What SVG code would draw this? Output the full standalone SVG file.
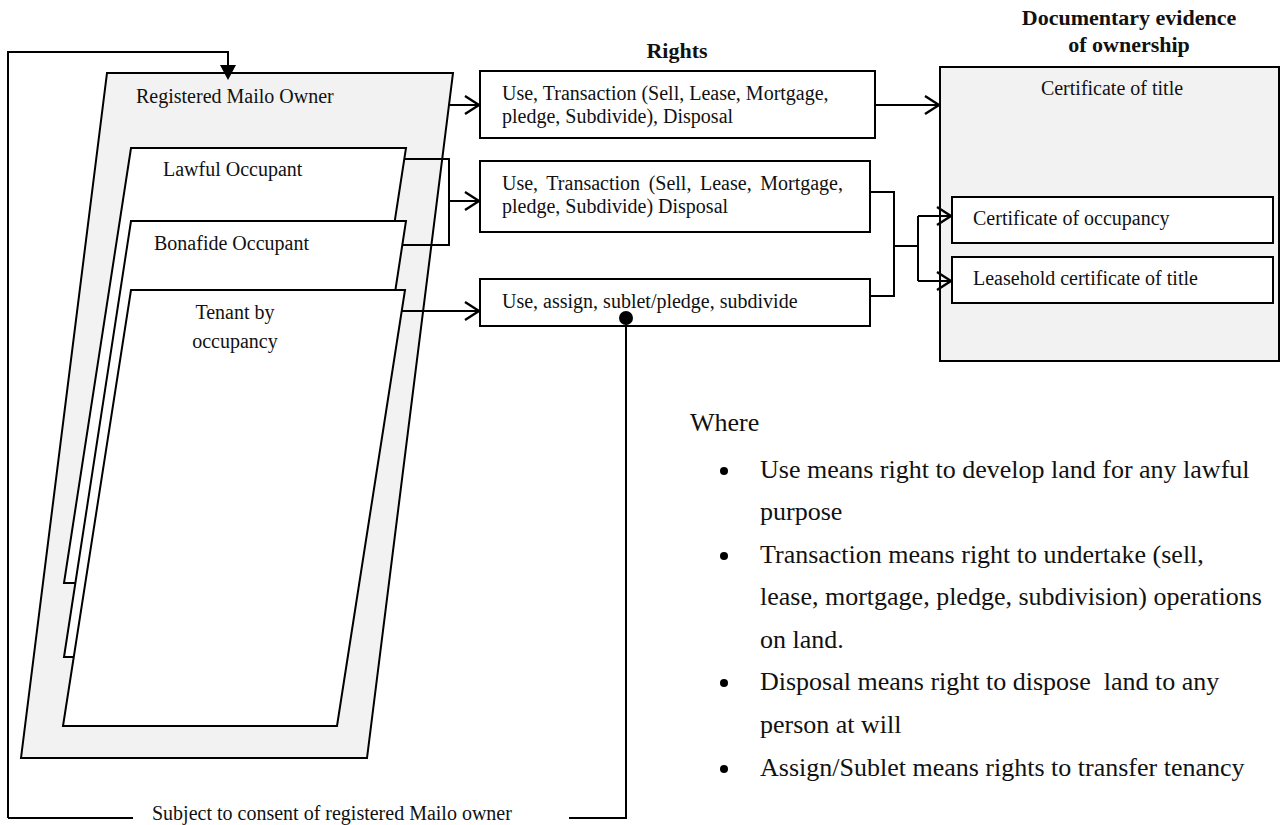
<svg xmlns="http://www.w3.org/2000/svg" width="1280" height="825" viewBox="0 0 1280 825">
<defs>
<style>
text{font-family:"Liberation Serif","Times New Roman",serif;fill:#111;}
.t{font-size:20px;}
.b{font-size:22px;font-weight:bold;}
.lg{font-size:26px;white-space:pre;}
.ln{fill:none;stroke:#000;stroke-width:2;}
.sh{stroke:#000;stroke-width:2;}
.grey{fill:#f2f2f2;}
.white{fill:#fff;}
</style>
<marker id="oa" markerWidth="18" markerHeight="22" refX="15" refY="10" orient="auto" markerUnits="userSpaceOnUse">
<path d="M1,1 L15,10 L1,19" fill="none" stroke="#000" stroke-width="2.4"/>
</marker>
</defs>
<rect width="1280" height="825" fill="#fff"/>

<g id="owner">
<polygon class="sh grey" points="107,73 453,73 367,758 21,758"/>
<text class="t" x="136" y="103">Registered Mailo Owner</text>
</g>
<g id="lawful">
<polygon class="sh white" points="131,148 406,148 339,583 64,583"/>
<text class="t" x="163" y="176">Lawful Occupant</text>
</g>
<g id="bonafide">
<polygon class="sh white" points="131,221 406,221 339,657 64,657"/>
<text class="t" x="154" y="250">Bonafide Occupant</text>
</g>
<g id="tenant">
<polygon class="sh white" points="131,290 405,290 337,726 63,726"/>
<text class="t" x="235" y="319" text-anchor="middle">Tenant by</text>
<text class="t" x="235" y="348" text-anchor="middle">occupancy</text>
</g>

<text class="b" x="677" y="58" text-anchor="middle">Rights</text>
<g id="right1">
<rect class="sh white" x="480" y="71" width="395" height="67"/>
<text class="t" x="502" y="100">Use, Transaction (Sell, Lease, Mortgage,</text>
<text class="t" x="502" y="123">pledge, Subdivide), Disposal</text>
</g>
<g id="right2">
<rect class="sh white" x="480" y="161" width="390" height="71"/>
<text class="t" x="502" y="190" word-spacing="3.6">Use, Transaction (Sell, Lease, Mortgage,</text>
<text class="t" x="502" y="213">pledge, Subdivide) Disposal</text>
</g>
<g id="right3">
<rect class="sh white" x="480" y="279" width="390" height="47"/>
<text class="t" x="502" y="308">Use, assign, sublet/pledge, subdivide</text>
</g>

<text class="b" x="1129" y="25" text-anchor="middle">Documentary evidence</text>
<text class="b" x="1129" y="52" text-anchor="middle">of ownership</text>
<g id="certtitle">
<rect class="sh grey" x="940" y="67" width="339" height="294"/>
<text class="t" x="1112" y="95" text-anchor="middle">Certificate of title</text>
</g>
<g id="certocc">
<rect class="sh white" x="952" y="197" width="321" height="46"/>
<text class="t" x="973" y="225">Certificate of occupancy</text>
</g>
<g id="leasehold">
<rect class="sh white" x="952" y="257" width="321" height="46"/>
<text class="t" x="973" y="285">Leasehold certificate of title</text>
</g>

<g id="connectors">
<polyline class="ln" points="8,818 8,52 228,52 228,66"/>
<polygon points="220,65 236,65 228,80" fill="#000"/>
<line class="ln" x1="449" y1="105" x2="479" y2="105" marker-end="url(#oa)"/>
<line class="ln" x1="875" y1="105" x2="939" y2="105" marker-end="url(#oa)"/>
<polyline class="ln" points="404,159 449,159 449,245 402,245"/>
<line class="ln" x1="449" y1="201" x2="479" y2="201" marker-end="url(#oa)"/>
<line class="ln" x1="402" y1="311" x2="479" y2="311" marker-end="url(#oa)"/>
<polyline class="ln" points="870,192 894,192 894,296 870,296"/>
<line class="ln" x1="894" y1="246" x2="918" y2="246"/>
<line class="ln" x1="918" y1="216" x2="918" y2="281"/>
<line class="ln" x1="918" y1="216" x2="951" y2="216" marker-end="url(#oa)"/>
<line class="ln" x1="918" y1="281" x2="951" y2="281" marker-end="url(#oa)"/>
<circle cx="626" cy="318" r="7" fill="#000"/>
<polyline class="ln" points="626,318 626,818 569,818"/>
<line class="ln" x1="8" y1="818" x2="133" y2="818"/>
<text class="t" x="152" y="820">Subject to consent of registered Mailo owner</text>
</g>

<g id="legend">
<text class="lg" x="690" y="431">Where</text>
<circle cx="724" cy="471" r="4" fill="#000"/>
<text class="lg" x="760" y="478">Use means right to develop land for any lawful</text>
<text class="lg" x="760" y="520">purpose</text>
<circle cx="724" cy="556" r="4" fill="#000"/>
<text class="lg" x="760" y="563">Transaction means right to undertake (sell,</text>
<text class="lg" x="760" y="605">lease, mortgage, pledge, subdivision) operations</text>
<text class="lg" x="760" y="648">on land.</text>
<circle cx="724" cy="683" r="4" fill="#000"/>
<text class="lg" x="760" y="690" xml:space="preserve">Disposal means right to dispose  land to any</text>
<text class="lg" x="760" y="733">person at will</text>
<circle cx="724" cy="769" r="4" fill="#000"/>
<text class="lg" x="760" y="776">Assign/Sublet means rights to transfer tenancy</text>
</g>
</svg>
